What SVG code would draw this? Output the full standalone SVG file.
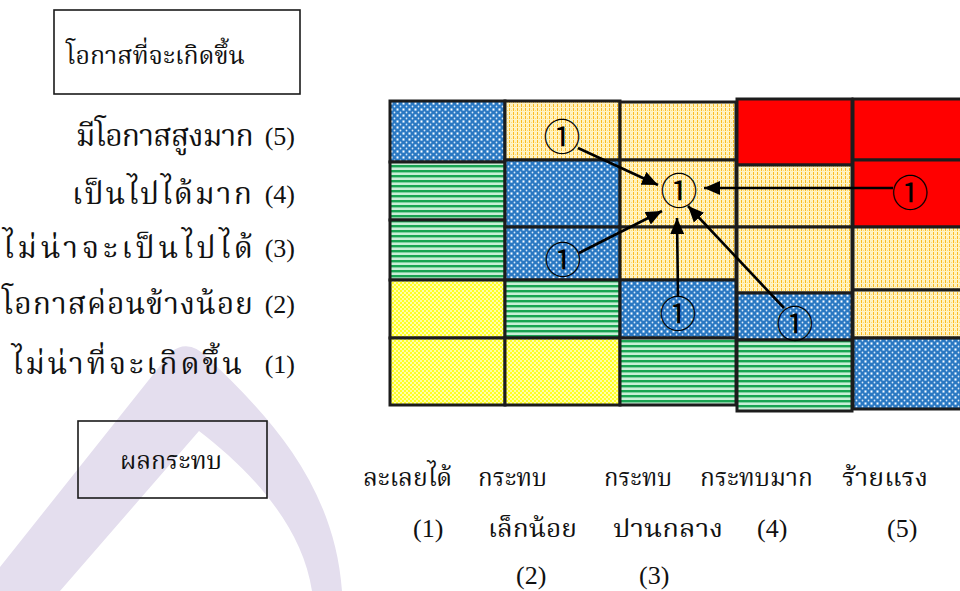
<svg xmlns="http://www.w3.org/2000/svg" width="960" height="591" viewBox="0 0 960 591">
<style>
  .th { font-family: "Liberation Serif", "Noto Serif Thai", "Noto Sans Thai", serif; fill: #111; font-weight: normal; }
  .num { font-family: "Liberation Serif", serif; font-size: 26px; fill: #111; }
  .lbl { font-size: 30px; }
  .blbl { font-size: 25px; }
  .box { fill: none; stroke: #1a1a1a; stroke-width: 1.6; }
  .cell { stroke: #1c1c1c; stroke-width: 3; }
  .c1 { font-family: "Noto Sans CJK JP", "DejaVu Sans", sans-serif; font-size: 37px; fill: #000; }
  .con { stroke: #000; stroke-width: 2.6; fill: none; marker-end: url(#ah); }
</style>
<defs>
  <marker id="ah" markerUnits="userSpaceOnUse" markerWidth="17" markerHeight="14" refX="16" refY="7" orient="auto">
    <path d="M0,0 L16,7 L0,14 Z" fill="#000"/>
  </marker>
  <pattern id="pBlue" width="6" height="6" patternUnits="userSpaceOnUse">
    <rect width="6" height="6" fill="#2a78c2"/>
    <rect x="0" y="0" width="3" height="3" fill="#5a9ad6"/>
    <circle cx="1.5" cy="1.5" r="0.9" fill="#ffffff"/>
    <circle cx="4.5" cy="4.5" r="0.9" fill="#dbeaf8"/>
  </pattern>
  <pattern id="pGreen" width="6" height="5" patternUnits="userSpaceOnUse">
    <rect width="6" height="5" fill="#c9eed7"/>
    <rect y="0" width="6" height="2" fill="#19a452"/>
    <rect y="2" width="6" height="1" fill="#7fd1a0"/>
  </pattern>
  <pattern id="pPeach" width="4" height="4" patternUnits="userSpaceOnUse">
    <rect width="4" height="4" fill="#fff3c2"/>
    <rect x="1" y="0" width="1" height="3" fill="#fbbb22"/>
    <rect x="3" y="2" width="1" height="1" fill="#ffdb70"/>
  </pattern>
  <pattern id="pYellow" width="4" height="4" patternUnits="userSpaceOnUse">
    <rect width="4" height="4" fill="#ffff22"/>
    <rect x="0" y="0" width="2" height="2" fill="#ffffa8"/>
    <rect x="2" y="2" width="2" height="2" fill="#ffffa8"/>
  </pattern>
</defs>

<rect width="960" height="591" fill="#ffffff"/>

<g id="watermark">
  <path d="M0,567 L171,352 Q189,338 208,358 C262,410 334,480 342,591 L312,591 C302,525 250,470 199,431 L60,591 L0,591 Z" fill="#e4deee"/>
</g>

<g id="likelihood-title">
  <rect class="box" x="54" y="10" width="246" height="84"/>
  <text class="th" x="66" y="64" font-size="25" textLength="179" lengthAdjust="spacingAndGlyphs">โอกาสที่จะเกิดขึ้น</text>
</g>

<g id="likelihood-levels">
  <text class="th lbl" x="75" y="146" textLength="178" lengthAdjust="spacing">มีโอกาสสูงมาก</text>
  <text class="num" x="295" y="145" text-anchor="end">(5)</text>
  <text class="th lbl" x="72" y="204" textLength="180" lengthAdjust="spacing">เป็นไปได้มาก</text>
  <text class="num" x="295" y="203" text-anchor="end">(4)</text>
  <text class="th lbl" x="3" y="258" textLength="250" lengthAdjust="spacing">ไม่น่าจะเป็นไปได้</text>
  <text class="num" x="295" y="257" text-anchor="end">(3)</text>
  <text class="th lbl" x="2" y="314" textLength="251" lengthAdjust="spacing">โอกาสค่อนข้างน้อย</text>
  <text class="num" x="295" y="313" text-anchor="end">(2)</text>
  <text class="th lbl" x="12" y="374" textLength="230" lengthAdjust="spacing">ไม่น่าที่จะเกิดขึ้น</text>
  <text class="num" x="295" y="373" text-anchor="end">(1)</text>
</g>

<g id="impact-title">
  <rect class="box" x="78" y="421" width="189" height="77"/>
  <text class="th" x="120" y="469" font-size="25" textLength="102" lengthAdjust="spacingAndGlyphs">ผลกระทบ</text>
</g>

<g id="impact-levels">
  <text class="th blbl" x="363" y="486" textLength="89" lengthAdjust="spacingAndGlyphs">ละเลยได้</text>
  <text class="th blbl" x="478" y="486" textLength="69" lengthAdjust="spacingAndGlyphs">กระทบ</text>
  <text class="th blbl" x="604" y="486" textLength="68" lengthAdjust="spacingAndGlyphs">กระทบ</text>
  <text class="th blbl" x="700" y="486" textLength="113" lengthAdjust="spacingAndGlyphs">กระทบมาก</text>
  <text class="th blbl" x="842" y="486" textLength="86" lengthAdjust="spacingAndGlyphs">ร้ายแรง</text>
  <text class="num" x="413" y="537">(1)</text>
  <text class="th blbl" x="488" y="537" textLength="89" lengthAdjust="spacingAndGlyphs">เล็กน้อย</text>
  <text class="th blbl" x="613" y="537" textLength="110" lengthAdjust="spacingAndGlyphs">ปานกลาง</text>
  <text class="num" x="757" y="537">(4)</text>
  <text class="num" x="887" y="537">(5)</text>
  <text class="num" x="516" y="584">(2)</text>
  <text class="num" x="639" y="584">(3)</text>
</g>

<g id="risk-matrix">
  <g id="col-1">
    <rect class="cell" x="390" y="101" width="115" height="61" fill="url(#pBlue)"/>
    <rect class="cell" x="390" y="162" width="115" height="58" fill="url(#pGreen)"/>
    <rect class="cell" x="390" y="220" width="115" height="60" fill="url(#pGreen)"/>
    <rect class="cell" x="390" y="280" width="115" height="58" fill="url(#pYellow)"/>
    <rect class="cell" x="390" y="338" width="115" height="67" fill="url(#pYellow)"/>
  </g>
  <g id="col-2">
    <rect class="cell" x="505" y="101" width="115" height="59" fill="url(#pPeach)"/>
    <rect class="cell" x="505" y="160" width="115" height="67" fill="url(#pBlue)"/>
    <rect class="cell" x="505" y="227" width="115" height="53" fill="url(#pBlue)"/>
    <rect class="cell" x="505" y="280" width="115" height="58" fill="url(#pGreen)"/>
    <rect class="cell" x="505" y="338" width="115" height="67" fill="url(#pYellow)"/>
  </g>
  <g id="col-3">
    <rect class="cell" x="620" y="102" width="116" height="58" fill="url(#pPeach)"/>
    <rect class="cell" x="620" y="160" width="116" height="67" fill="url(#pPeach)"/>
    <rect class="cell" x="620" y="227" width="116" height="53" fill="url(#pPeach)"/>
    <rect class="cell" x="620" y="280" width="116" height="58" fill="url(#pBlue)"/>
    <rect class="cell" x="620" y="338" width="116" height="67" fill="url(#pGreen)"/>
  </g>
  <g id="col-4">
    <rect class="cell" x="737" y="99" width="115" height="66" fill="#ff0000"/>
    <rect class="cell" x="737" y="165" width="115" height="62" fill="url(#pPeach)"/>
    <rect class="cell" x="737" y="227" width="115" height="66" fill="url(#pPeach)"/>
    <rect class="cell" x="737" y="293" width="115" height="47" fill="url(#pBlue)"/>
    <rect class="cell" x="737" y="340" width="115" height="71" fill="url(#pGreen)"/>
  </g>
  <g id="col-5">
    <rect class="cell" x="853" y="99" width="112" height="61" fill="#ff0000"/>
    <rect class="cell" x="853" y="160" width="112" height="67" fill="#ff0000"/>
    <rect class="cell" x="853" y="227" width="112" height="63" fill="url(#pPeach)"/>
    <rect class="cell" x="853" y="290" width="112" height="48" fill="url(#pPeach)"/>
    <rect class="cell" x="853" y="338" width="112" height="71" fill="url(#pBlue)"/>
  </g>
</g>

<g id="connectors">
  <line class="con" x1="578" y1="148" x2="658" y2="185"/>
  <line class="con" x1="893" y1="188" x2="704" y2="188"/>
  <line class="con" x1="579" y1="253" x2="662" y2="211"/>
  <line class="con" x1="678" y1="296" x2="677" y2="218"/>
  <line class="con" x1="784" y1="308" x2="688" y2="206"/>
</g>

<g id="markers">
  <text id="m-origin-1" class="c1" x="562" y="135" text-anchor="middle" dominant-baseline="central">①</text>
  <text id="m-target" class="c1" x="679" y="189" text-anchor="middle" dominant-baseline="central">①</text>
  <text id="m-origin-2" class="c1" x="910" y="191" text-anchor="middle" dominant-baseline="central">①</text>
  <text id="m-origin-3" class="c1" x="563" y="258" text-anchor="middle" dominant-baseline="central">①</text>
  <text id="m-origin-4" class="c1" x="678" y="312" text-anchor="middle" dominant-baseline="central">①</text>
  <text id="m-origin-5" class="c1" x="795" y="322" text-anchor="middle" dominant-baseline="central">①</text>
</g>
</svg>
